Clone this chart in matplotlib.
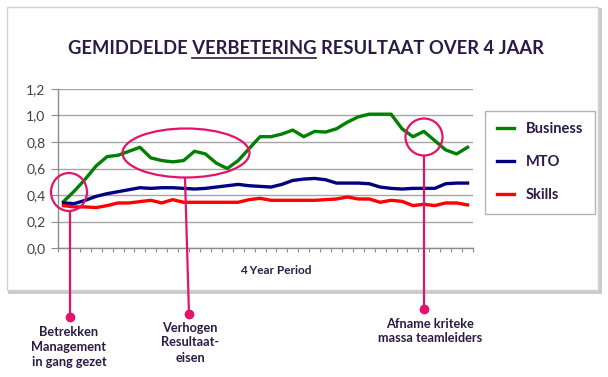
import matplotlib
matplotlib.use("Agg")
import matplotlib.pyplot as plt
from matplotlib.patches import Ellipse, Rectangle
from matplotlib.ticker import FuncFormatter, MultipleLocator

# data
business = [0.35, 0.43, 0.52, 0.62, 0.69, 0.70, 0.73, 0.76, 0.68, 0.66,
            0.65, 0.66, 0.73, 0.71, 0.64, 0.60, 0.66, 0.75, 0.84, 0.84,
            0.86, 0.89, 0.84, 0.88, 0.875, 0.90, 0.95, 0.99, 1.01, 1.01,
            1.01, 0.90, 0.84, 0.88, 0.81, 0.74, 0.71, 0.76]
mto = [0.34, 0.335, 0.36, 0.39, 0.41, 0.425, 0.44, 0.455, 0.45, 0.455,
       0.455, 0.45, 0.445, 0.45, 0.46, 0.47, 0.48, 0.47, 0.465, 0.46,
       0.48, 0.51, 0.52, 0.525, 0.515, 0.49, 0.49, 0.49, 0.485, 0.46,
       0.45, 0.445, 0.45, 0.45, 0.45, 0.485, 0.49, 0.49]
skills = [0.32, 0.31, 0.31, 0.305, 0.32, 0.34, 0.34, 0.35, 0.36, 0.34,
          0.365, 0.345, 0.345, 0.345, 0.345, 0.345, 0.345, 0.365, 0.375, 0.36,
          0.36, 0.36, 0.36, 0.36, 0.365, 0.37, 0.385, 0.37, 0.37, 0.345,
          0.36, 0.352, 0.32, 0.33, 0.32, 0.34, 0.34, 0.325]
series_names = ["Business", "MTO", "Skills"]
notes = ["Betrekken\nManagement\nin gang gezet", "Verhogen\nResultaat-\neisen",
         "Afname kriteke\nmassa teamleiders"]

W, H = 608, 377
txt = "#2a1a45"
pink = "#e4126a"
font = "Lato"

fig = plt.figure(figsize=(W / 100, H / 100), dpi=100)
fig.patch.set_facecolor("white")

def px(x0, y0, x1, y1):
    # pixel box (top-left origin) -> figure fraction rect
    return [x0 / W, 1 - y1 / H, (x1 - x0) / W, (y1 - y0) / H]

# background layer in pixel coordinates
bg = fig.add_axes([0, 0, 1, 1], zorder=0)
bg.set_xlim(0, W)
bg.set_ylim(H, 0)
bg.axis("off")
bg.add_patch(Rectangle((9, 9), 591, 283, fc="none", ec="#c8c8c8", lw=2.0))
bg.add_patch(Rectangle((7, 7), 591, 283, fc="white", ec="#d0d0d0", lw=1.0))

ax = fig.add_axes(px(58, 89, 473, 248), zorder=1)
ax.patch.set_alpha(0)
x = list(range(len(business)))
ax.plot(x, business, color="#008000", lw=2.4, label=series_names[0], solid_joinstyle="round")
ax.plot(x, mto, color="#000080", lw=2.4, label=series_names[1], solid_joinstyle="round")
ax.plot(x, skills, color="#ff0000", lw=2.4, label=series_names[2], solid_joinstyle="round")

ax.set_xlim(-0.5, len(business) - 0.5)
ax.set_ylim(0, 1.2)
ax.yaxis.set_major_locator(MultipleLocator(0.2))
ax.yaxis.set_major_formatter(FuncFormatter(lambda v, p: f"{v:.1f}".replace(".", ",")))
ax.set_xticks([i - 0.5 for i in range(len(business) + 1)])
ax.set_xticklabels([])
ax.grid(axis="y", color="#a6a6a6", lw=1.0)
ax.set_axisbelow(True)
for s in ["top", "right"]:
    ax.spines[s].set_visible(False)
for s in ["left", "bottom"]:
    ax.spines[s].set_color("#8c8c8c")
    ax.spines[s].set_linewidth(1.0)
ax.tick_params(axis="y", length=5, color="#8c8c8c", pad=4, labelsize=10, labelcolor="#404040")
ax.tick_params(axis="x", length=3, color="#8c8c8c")
for t in ax.get_yticklabels():
    t.set_fontfamily(font)

# axis title
fig.text(276 / W, 1 - 270 / H, "4 Year Period", ha="center", va="center",
         fontsize=8.5, fontweight="bold", color=txt, family=font)

# legend
leg = fig.legend(loc="upper left", bbox_to_anchor=(485 / W, 1 - 110.5 / H),
                 frameon=True, fancybox=False, handlelength=1.2, handletextpad=0.8,
                 labelspacing=1.3, borderpad=0.8, borderaxespad=0,
                 prop={"family": font, "weight": "bold", "size": 10.5})
leg.get_frame().set_edgecolor("#a0a0a0")
leg.get_frame().set_linewidth(1.0)
for t in leg.get_texts():
    t.set_color(txt)

# title with underlined word
title_parts = ["GEMIDDELDE ", "VERBETERING", " RESULTAAT OVER 4 JAAR"]
full = "".join(title_parts)
tcx, tcy = 305.5, 48.5
title_kw = dict(fontsize=13.2, fontweight="bold", color=txt, family=font)
t_full = fig.text(tcx / W, 1 - tcy / H, full, ha="center", va="center", **title_kw)
r = fig.canvas.get_renderer()

def width_of(s):
    t = fig.text(0, 0, s, **title_kw)
    w = t.get_window_extent(r).width
    t.remove()
    return w

w_full = width_of(full)
w_ab = width_of(title_parts[0] + title_parts[1])
w_b = width_of(title_parts[1])
left = tcx - w_full / 2
bg.plot([left + w_ab - w_b, left + w_ab], [57.5, 57.5], color=txt, lw=1.2)

# annotations (pixel layout)
over = fig.add_axes([0, 0, 1, 1], zorder=3)
over.set_xlim(0, W)
over.set_ylim(H, 0)
over.axis("off")
circles = [(69, 192, 36, 38), (186, 153, 127, 49), (424, 137, 37, 37)]
stems = [((69.5, 211), (69.5, 317)), ((185, 178), (189, 314)), ((424, 155.5), (424, 309))]
labels_at = [(69, 326), (190, 321.5), (430, 317.5)]
for (cx, cy, w, h), (p0, p1), (lx, ly), note in zip(circles, stems, labels_at, notes):
    over.add_patch(Ellipse((cx, cy), w, h, fc="none", ec=pink, lw=1.6))
    over.plot([p0[0], p1[0]], [p0[1], p1[1]], color=pink, lw=1.6)
    over.plot(p1[0], p1[1], "o", color=pink, ms=6)
    over.text(lx, ly, note, ha="center", va="top", fontsize=9.2, fontweight="bold",
              color=txt, family=font, linespacing=1.3)

fig.savefig("out.png", dpi=100)
